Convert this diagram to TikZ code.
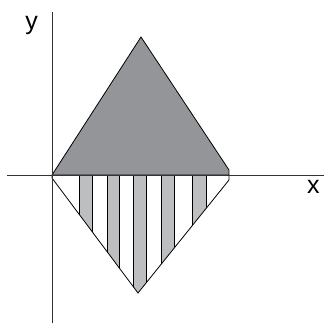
\documentclass[tikz,border=0pt]{standalone}
\usepackage{fontspec}
\setsansfont{Liberation Sans}
\usetikzlibrary{positioning}
\definecolor{darkfill}{HTML}{939598}
\definecolor{lightfill}{HTML}{BCBEC0}
\tikzset{
  axis/.style={line width=0.9pt, black!80},
  edge/.style={line width=0.8pt, black, line join=miter},
  upper/.style={fill=darkfill},
  stripe/.style={fill=lightfill, draw=black, line width=0.8pt},
  axlbl/.style={font=\sffamily\fontsize{25}{25}\selectfont, inner sep=0pt},
}
\begin{document}
\begin{tikzpicture}[x=1pt,y=-1pt]
\useasboundingbox (0,0) rectangle (324,325);
% corners of the two triangles
\coordinate (l) at (52,175);
\coordinate (apex) at (141,37);
\coordinate (rt) at (229,170);
\coordinate (r) at (229,175);
\coordinate (rb) at (229,180);
\coordinate (low) at (138,293);
\coordinate (lb) at (52,178);
% upper triangle
\draw[edge, upper] (l) -- (apex) -- (rt) -- (r) -- cycle;
% lower triangle with stripes
\begin{scope}
  \clip (l) -- (lb) -- (low) -- (rb) -- (r) -- cycle;
  \foreach \a/\b in {79/92, 107/119, 133/146, 161/174, 192/206}
    \draw[stripe] (\a,175) rectangle (\b,300);
\end{scope}
\draw[edge] (l) -- (lb) -- (low) -- (rb) -- (r);
% axes
\coordinate (ytop) at (52,12);
\coordinate (ybot) at (52,323);
\coordinate (xleft) at (7,175);
\coordinate (xright) at (324,175);
\draw[axis] (ybot) -- (ytop);
\draw[axis] (xleft) -- (xright);
\node[axlbl] (ylbl) at (31.5,25) {y};
\node[axlbl] (xlbl) at (313.5,187) {x};
\end{tikzpicture}
\end{document}
